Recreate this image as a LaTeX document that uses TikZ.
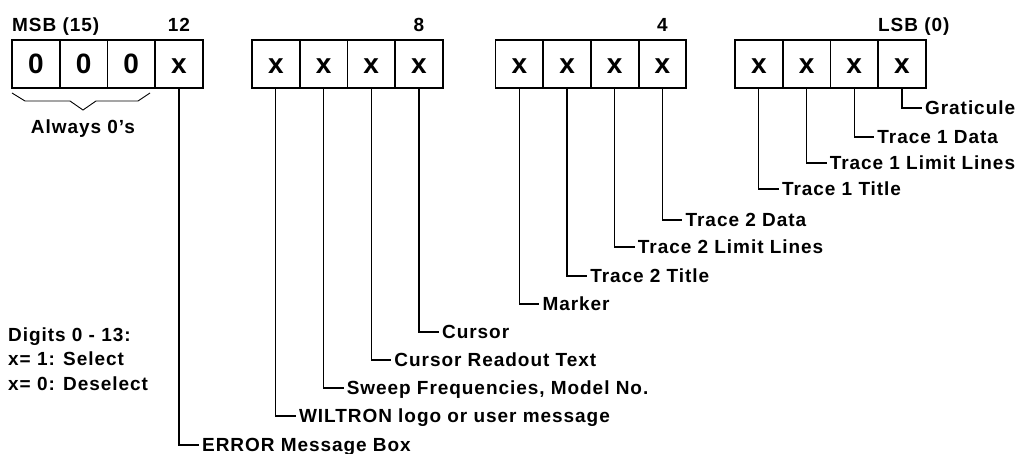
\documentclass[tikz,border=0pt]{standalone}
\usepackage{fontspec}
\setmainfont{Liberation Sans}[LetterSpace=5]
\begin{document}
\begin{tikzpicture}[x=1pt,y=-1pt,
  cell/.style={draw, line width=1.8pt, minimum width=47.7pt, minimum height=47.7pt, inner sep=0pt,
    font=\fontsize{28}{30}\selectfont\bfseries, text height=20pt, text depth=0pt},
  lab/.style={font=\fontsize{19}{22}\selectfont\bfseries, inner xsep=3pt, inner ysep=0pt,
    text height=13.6pt, text depth=0pt, anchor=west},
  note/.style={font=\fontsize{19}{22}\selectfont\bfseries, inner sep=0pt},
  conn/.style={line width=1.2pt},
  bracepath/.style={line width=0.9pt}]
\useasboundingbox (0,0) rectangle (1026,454);
% bit cells
\foreach \nm/\cx/\t in {b15/35.85/0, b14/83.55/0, b13/131.25/0, b12/178.95/x,
  b11/275.85/x, b10/323.55/x, b9/371.25/x, b8/418.95/x,
  b7/519.35/x, b6/567.05/x, b5/614.75/x, b4/662.45/x,
  b3/758.85/x, b2/806.55/x, b1/854.25/x, b0/901.95/x}
  \node[cell] (\nm) at (\cx,64) {\t};
% top labels
\node[note, anchor=base west] (msb) at (12,32) {MSB (15)};
\node[note, anchor=base] (t12) at (178.95,32) {12};
\node[note, anchor=base] (t8) at (418.95,32) {8};
\node[note, anchor=base] (t4) at (662.45,32) {4};
\node[note, anchor=base west] (lsb) at (878,32) {LSB (0)};
% brace under the zeros
\draw[bracepath] (12,93) -- (25,101) -- (70,101) -- (83,110) -- (96,101) -- (138,101) -- (150,93);
\node[note, anchor=base] (always) at (83,134) {Always 0's};
% notes
\node[note, anchor=base west] (n1) at (8,341.5) {Digits 0 - 13:};
\node[note, anchor=base west] (n2) at (8,366) {x= 1: Select};
\node[note, anchor=base west] (n3) at (8,390.5) {x= 0: Deselect};
% bit labels
\node[lab] (l0) at (921.95,108) {Graticule};
\node[lab] (l1) at (874.25,137) {Trace 1 Data};
\node[lab] (l2) at (826.55,163) {Trace 1 Limit Lines};
\node[lab] (l3) at (778.85,189) {Trace 1 Title};
\node[lab] (l4) at (682.45,220) {Trace 2 Data};
\node[lab] (l5) at (634.75,247) {Trace 2 Limit Lines};
\node[lab] (l6) at (587.05,276) {Trace 2 Title};
\node[lab] (l7) at (539.35,304) {Marker};
\node[lab] (l8) at (438.95,332) {Cursor};
\node[lab] (l9) at (391.25,360) {Cursor Readout Text};
\node[lab] (l10) at (343.55,388) {Sweep Frequencies, Model No.};
\node[lab] (l11) at (295.85,416) {WILTRON logo or user message};
\node[lab] (l12) at (198.95,445) {ERROR Message Box};
% connectors
\foreach \k in {0,...,12}
  \draw[conn] (b\k.south) |- (l\k.west);
\end{tikzpicture}
\end{document}
